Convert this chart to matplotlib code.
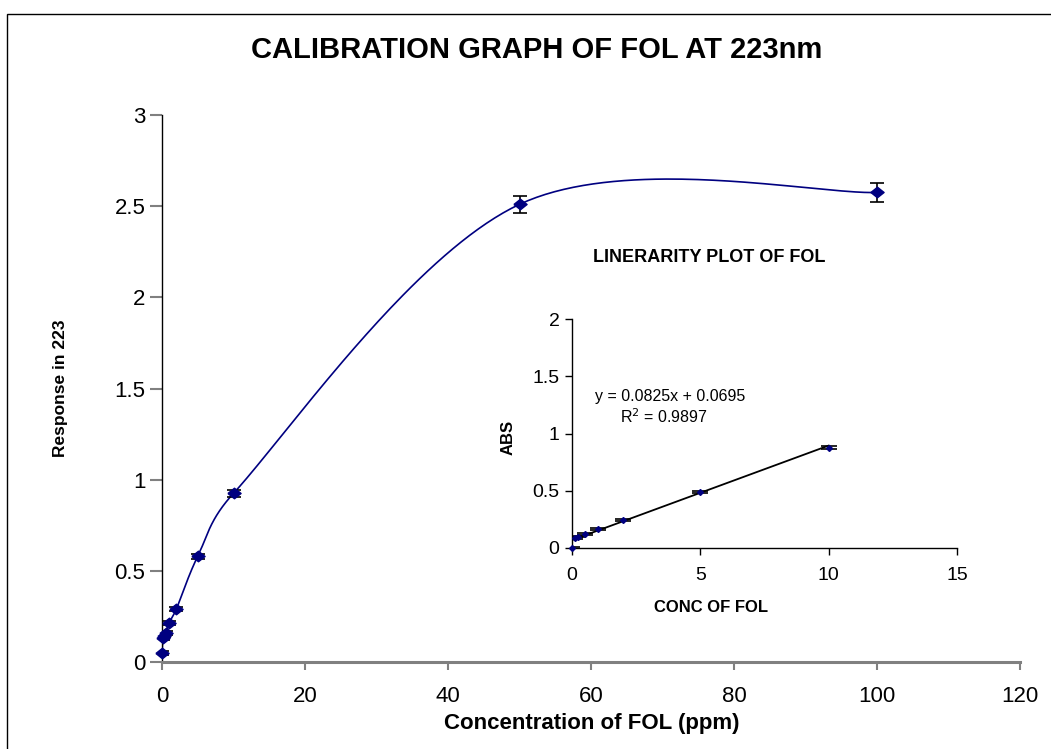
import numpy as np
import matplotlib
matplotlib.use("Agg")
import matplotlib.pyplot as plt
from matplotlib.patches import Rectangle

# ---- data (main calibration graph) ----
conc = [0, 0.1, 0.25, 0.5, 1, 2, 5, 10, 50, 100]
resp = [0.05, 0.13, 0.145, 0.16, 0.215, 0.29, 0.58, 0.925, 2.51, 2.575]
resp_err = [0.01, 0.01, 0.01, 0.01, 0.012, 0.012, 0.015, 0.018, 0.048, 0.053]
main_xticks = [0, 20, 40, 60, 80, 100, 120]
main_yticks = [0, 0.5, 1, 1.5, 2, 2.5, 3]
main_yticklabels = ["0", "0.5", "1", "1.5", "2", "2.5", "3"]

# ---- data (linearity inset) ----
lin_conc = [0, 0.1, 0.25, 0.5, 1, 2, 5, 10]
lin_abs = [0, 0.09, 0.1, 0.12, 0.165, 0.245, 0.49, 0.875]
lin_err = [0.008, 0.008, 0.008, 0.008, 0.008, 0.008, 0.01, 0.012]
fit_slope = 0.0825
fit_intercept = 0.0695
fit_r2 = 0.9897
ins_xticks = [0, 5, 10, 15]
ins_yticks = [0, 0.5, 1, 1.5, 2]
ins_yticklabels = ["0", "0.5", "1", "1.5", "2"]

NAVY = "#000080"
GRAY = "#808080"
FONT = ["Liberation Sans", "DejaVu Sans"]
plt.rcParams["font.family"] = FONT


def excel_smooth(ax, xs, ys, n=80):
    """Excel-style smoothed line (Bezier, 1/6 tangents, limited to half
    the segment length), computed in display space."""
    P = ax.transData.transform(np.column_stack([xs, ys]).astype(float))
    m = len(P)
    out = []
    for i in range(m - 1):
        p0 = P[i - 1] if i > 0 else P[i]
        p1 = P[i]
        p2 = P[i + 1]
        p3 = P[i + 2] if i + 2 < m else P[i + 1]
        d12 = np.hypot(*(p2 - p1))
        d02 = np.hypot(*(p2 - p0))
        d13 = np.hypot(*(p3 - p1))
        f1 = 1 / 6 if d02 / 6 < d12 / 2 else (d12 / 2 / d02 if d02 > 0 else 0)
        f2 = 1 / 6 if d13 / 6 < d12 / 2 else (d12 / 2 / d13 if d13 > 0 else 0)
        c1 = p1 + (p2 - p0) * f1
        c2 = p2 - (p3 - p1) * f2
        t = np.linspace(0, 1, n)[:, None]
        seg = ((1 - t) ** 3) * p1 + 3 * ((1 - t) ** 2) * t * c1 \
            + 3 * (1 - t) * t ** 2 * c2 + t ** 3 * p2
        out.append(seg if i == 0 else seg[1:])
    out = ax.transData.inverted().transform(np.vstack(out))
    return out[:, 0], out[:, 1]


W, H = 1051, 749
fig = plt.figure(figsize=(W / 100, H / 100), dpi=100)
fig.patch.set_facecolor("white")

# outer border
fig.patches.append(Rectangle((7 / W, -0.02), 1.05, 1 - 14 / H + 0.02,
                             transform=fig.transFigure, fill=False,
                             edgecolor="black", linewidth=1.0))

# ---------------- main axes ----------------
ax = fig.add_axes([162 / W, 1 - 662 / H, (1020 - 162) / W, (662 - 115) / H])
ax.set_xlim(0, 120)
ax.set_ylim(0, 3)
sx, sy = excel_smooth(ax, conc, resp)
ax.plot(sx, sy, color=NAVY, linewidth=1.2, zorder=2)
ax.errorbar(conc, resp, yerr=resp_err, fmt="none", ecolor="black",
            elinewidth=1.2, capsize=5, capthick=1.2, zorder=3)
diamond = [(-1, 0), (0, 0.8), (1, 0), (0, -0.8), (-1, 0)]
ax.plot(conc, resp, linestyle="none", marker=diamond, markersize=9.5,
        color=NAVY, zorder=4, clip_on=False)

for s in ["top", "right"]:
    ax.spines[s].set_visible(False)
ax.spines["left"].set_color("black")
ax.spines["left"].set_linewidth(1.0)
ax.spines["bottom"].set_color(GRAY)
ax.spines["bottom"].set_linewidth(2.2)
ax.set_xticks(main_xticks)
ax.set_xticklabels([str(v) for v in main_xticks])
ax.set_yticks(main_yticks)
ax.set_yticklabels(main_yticklabels)
ax.tick_params(axis="x", direction="out", length=6, width=1.5, color=GRAY,
               labelsize=16, pad=11)
ax.tick_params(axis="y", direction="out", length=9, width=1.5, color=GRAY,
               labelsize=16, pad=3)
ax.set_facecolor("none")

fig.text(537 / W, 1 - 50 / H, "CALIBRATION GRAPH OF FOL AT 223nm",
         ha="center", va="center", fontsize=21, fontweight="bold")
fig.text(592 / W, 1 - 724 / H, "Concentration of FOL (ppm)",
         ha="center", va="center", fontsize=16, fontweight="bold")
fig.text(60 / W, 1 - 388 / H, "Response in 223", rotation=90,
         ha="center", va="center", fontsize=12.5, fontweight="bold")

# ---------------- inset axes ----------------
ins = fig.add_axes([572 / W, 1 - 548 / H, (957 - 572) / W, (548 - 319) / H])
ins.set_xlim(0, 15)
ins.set_ylim(0, 2)
fx = np.array([0, max(lin_conc)])
ins.plot(fx, fit_slope * fx + fit_intercept, color="black", linewidth=1.3,
         zorder=2)
ins.errorbar(lin_conc, lin_abs, yerr=lin_err, fmt="none",
             ecolor="black", elinewidth=1.0, capsize=6, capthick=1.2,
             zorder=3)
ins.plot(lin_conc, lin_abs, linestyle="none", marker="D", markersize=3,
         color=NAVY, zorder=4, clip_on=False)
for s in ["top", "right"]:
    ins.spines[s].set_visible(False)
ins.spines["left"].set_linewidth(1.0)
ins.spines["bottom"].set_linewidth(1.0)
ins.set_xticks(ins_xticks)
ins.set_xticklabels([str(v) for v in ins_xticks])
ins.set_yticks(ins_yticks)
ins.set_yticklabels(ins_yticklabels)
ins.tick_params(axis="x", direction="out", length=5, width=1.0,
                labelsize=14, pad=9)
ins.tick_params(axis="y", direction="out", length=5, width=1.0,
                labelsize=14, pad=4)
ins.set_facecolor("none")

fig.text(709 / W, 1 - 258 / H, "LINERARITY PLOT OF FOL",
         ha="center", va="center", fontsize=13, fontweight="bold")
fig.text(711 / W, 1 - 607 / H, "CONC OF FOL",
         ha="center", va="center", fontsize=12, fontweight="bold")
fig.text(508 / W, 1 - 437 / H, "ABS", rotation=90,
         ha="center", va="center", fontsize=12, fontweight="bold")
fig.text(670 / W, 1 - 397 / H,
         f"y = {fit_slope}x + {fit_intercept}",
         ha="center", va="center", fontsize=11.5)
fig.text(664 / W, 1 - 417 / H, f"R$^2$ = {fit_r2}",
         ha="center", va="center", fontsize=11.5)

fig.savefig("out.png", dpi=100, facecolor="white")
